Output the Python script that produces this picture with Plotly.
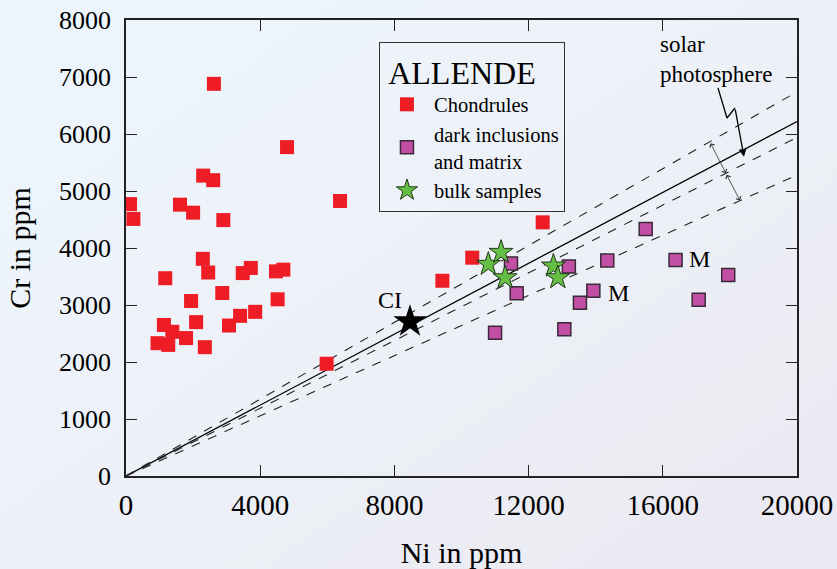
import base64
import plotly.graph_objects as go

# ---------------- data ----------------
chondrules_ni = [2620, 4800, 2300, 2600, 120, 220, 1610, 2000, 2900, 2290, 2450, 1170,
                 3480, 3720, 4470, 4690, 2870, 1940, 4520, 3850, 3400, 3070, 2090, 1130,
                 1380, 1790, 940, 1260, 2350, 6380, 5980, 9430, 10320, 12420]
chondrules_cr = [6880, 5770, 5270, 5190, 4770, 4510, 4760, 4620, 4490, 3810, 3570, 3470,
                 3560, 3650, 3590, 3620, 3210, 3070, 3100, 2880, 2810, 2640, 2700, 2650,
                 2530, 2420, 2330, 2300, 2260, 4825, 1970, 3425, 3830, 4450]

dark_ni = [11475, 11645, 13200, 14345, 15490, 13930, 13530, 16380, 17950, 17070, 11000, 13065]
dark_cr = [3730, 3205, 3675, 3780, 4335, 3250, 3040, 3790, 3525, 3090, 2515, 2575]

bulk_ni = [10800, 11180, 11300, 12740, 12870]
bulk_cr = [3715, 3925, 3480, 3685, 3480]

ci_ni = [8465]
ci_cr = [2708]

m_label_ni = [14680, 17100]
m_label_cr = [3210, 3800]

solar_slope = 0.311                 # solid line, solar photosphere Cr/Ni
band_slopes = [0.337, 0.297, 0.264]  # dashed lines
line_ni = [0, 20000]

x_ticks = [0, 4000, 8000, 12000, 16000, 20000]
y_ticks = [0, 1000, 2000, 3000, 4000, 5000, 6000, 7000, 8000]

# guide marks for the "solar photosphere" pointer and band arrows
zigzag_ni = [17645, 17913, 18152]
zigzag_cr = [6807, 6281, 6456]
zig_tip = (18420, 5600)
band_arrow_ni = [17400, 17880, 18300]

FONT = "Liberation Serif"
BG = "#edf1f7"

# soft diagonal background gradient (as in the reference)
svg = ('<svg xmlns="http://www.w3.org/2000/svg" width="837" height="569" preserveAspectRatio="none">'
       '<defs><linearGradient id="g" x1="0" y1="0" x2="1" y2="1">'
       '<stop offset="0" stop-color="#edf6fd"/><stop offset="0.5" stop-color="#edf1f7"/>'
       '<stop offset="1" stop-color="#ebe8f1"/></linearGradient></defs>'
       '<rect width="837" height="569" fill="url(#g)"/></svg>')
bg_src = "data:image/svg+xml;base64," + base64.b64encode(svg.encode()).decode()

fig = go.Figure()

# reference lines
fig.add_trace(go.Scatter(x=line_ni, y=[solar_slope * v for v in line_ni], mode="lines",
                         line=dict(color="black", width=1.3), showlegend=False, hoverinfo="skip"))
for s in band_slopes:
    fig.add_trace(go.Scatter(x=line_ni, y=[s * v for v in line_ni], mode="lines",
                             line=dict(color="#222", width=1.1, dash="dash"),
                             showlegend=False, hoverinfo="skip"))

# zigzag pointer
fig.add_trace(go.Scatter(x=zigzag_ni, y=zigzag_cr, mode="lines",
                         line=dict(color="black", width=1.3), showlegend=False, hoverinfo="skip"))

fig.add_trace(go.Scatter(x=chondrules_ni, y=chondrules_cr, mode="markers", name="Chondrules",
                         marker=dict(symbol="square", size=14, color="#ee1c25",
                                     line=dict(width=0))))
fig.add_trace(go.Scatter(x=dark_ni, y=dark_cr, mode="markers",
                         name="dark inclusions<br>and matrix",
                         marker=dict(symbol="square", size=13, color="#c24fa3",
                                     line=dict(width=1.5, color="#3a2a3a"))))
fig.add_trace(go.Scatter(x=bulk_ni, y=bulk_cr, mode="markers", name="bulk samples",
                         marker=dict(symbol="star", size=18, color="#66bf45",
                                     line=dict(width=1, color="#24361c"))))
fig.add_trace(go.Scatter(x=ci_ni, y=ci_cr, mode="markers", showlegend=False,
                         marker=dict(symbol="star", size=25, color="black",
                                     line=dict(width=0))))

annotations = [
    dict(x=7870, y=3090, text="CI", showarrow=False, font=dict(family=FONT, size=24, color="black")),
    dict(x=15860, y=7300, text="solar<br>photosphere", showarrow=False, xanchor="left",
         align="left", font=dict(family=FONT, size=23, color="black")),
    dict(x=zig_tip[0], y=zig_tip[1], ax=zigzag_ni[-1], ay=zigzag_cr[-1], axref="x", ayref="y",
         xref="x", yref="y", showarrow=True, arrowhead=2, arrowsize=1.2, arrowwidth=1.3,
         arrowcolor="black", text=""),
]
for mx, my in zip(m_label_ni, m_label_cr):
    annotations.append(dict(x=mx, y=my, text="M", showarrow=False,
                            font=dict(family=FONT, size=24, color="black")))
# band double arrows
pts = [(band_arrow_ni[0], band_slopes[0] * band_arrow_ni[0]),
       (band_arrow_ni[1], band_slopes[1] * band_arrow_ni[1]),
       (band_arrow_ni[2], band_slopes[2] * band_arrow_ni[2])]
for a, b in [(pts[0], pts[1]), (pts[1], pts[2])]:
    annotations.append(dict(x=b[0], y=b[1], ax=a[0], ay=a[1], axref="x", ayref="y",
                            xref="x", yref="y", showarrow=True, arrowside="end+start",
                            arrowhead=4, startarrowhead=4, arrowsize=1.3, startarrowsize=1.3,
                            arrowwidth=0.8, arrowcolor="#333", text=""))

fig.update_layout(
    width=837, height=569,
    margin=dict(l=126, r=40, t=20, b=93, autoexpand=False),
    paper_bgcolor=BG, plot_bgcolor="rgba(0,0,0,0)",
    images=[dict(source=bg_src, xref="paper", yref="paper", x=-126 / 671, y=1 + 20 / 456,
                 sizex=837 / 671, sizey=569 / 456, xanchor="left", yanchor="top",
                 sizing="stretch", layer="below")],
    font=dict(family=FONT, color="black"),
    annotations=annotations,
    legend=dict(x=0.377, y=0.952, xanchor="left", yanchor="top",
                bordercolor="#333", borderwidth=1, bgcolor="rgba(0,0,0,0)",
                itemwidth=44, entrywidth=160, entrywidthmode="pixels",
                title=dict(text=" ALLENDE", font=dict(family=FONT, size=32)),
                font=dict(family=FONT, size=20.5), tracegroupgap=0),
    showlegend=True,
)
fig.update_xaxes(range=[0, 20000], tickvals=x_ticks, ticktext=[str(v) for v in x_ticks],
                 ticks="inside", ticklen=11, tickcolor="#222", showline=True, linecolor="#222",
                 linewidth=1.5, mirror="ticks", showgrid=False, zeroline=False,
                 automargin=False, ticklabelstandoff=2,
                 tickfont=dict(family=FONT, size=29),
                 title=dict(text="Ni in ppm", font=dict(family=FONT, size=30), standoff=22))
fig.update_yaxes(range=[0, 8000], tickvals=y_ticks, ticktext=[str(v) for v in y_ticks],
                 ticks="inside", ticklen=11, tickcolor="#222", showline=True, linecolor="#222",
                 linewidth=1.5, mirror="ticks", showgrid=False, zeroline=False,
                 automargin=False, ticklabelstandoff=8,
                 tickfont=dict(family=FONT, size=26),
                 title=dict(text="Cr in ppm", font=dict(family=FONT, size=30), standoff=20))

fig.write_html("out.html", config={"displayModeBar": False},
               post_script="document.body.style.margin='0';document.body.style.overflow='hidden';")
